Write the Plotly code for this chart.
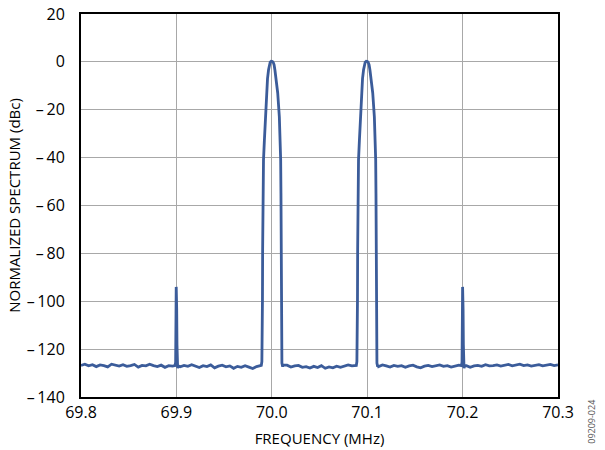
import numpy as np
import plotly.graph_objects as go

# ---------------- data ----------------
# noise floor levels (dBc) sampled every 0.004 MHz from 69.800 to 70.300
floor_start = 69.800
floor_step = 0.004
floor_levels = [
    -126.8, -126.3, -127.0, -126.5, -127.3, -126.6, -126.9, -127.4, -126.3, -126.8,
    -127.1, -126.5, -127.2, -126.9, -126.4, -127.5, -126.8, -127.0, -126.3, -126.9,
    -127.3, -126.7, -127.6, -126.9, -127.1, -126.6, -127.4, -126.8, -127.2, -126.5,
    -127.0, -127.7, -126.9, -127.3, -126.6, -127.8, -127.1, -126.7, -127.4, -127.0,
    -128.0, -127.2, -127.6, -126.9, -127.5, -128.1, -127.3, -126.8, -127.6, -127.9,
    -127.2, -126.9, -127.4, -127.1, -126.7, -127.5, -127.0, -126.8, -127.6, -127.3,
    -127.9, -127.2, -127.7, -126.9, -128.0, -127.4, -127.8, -127.1, -127.6, -127.2,
    -126.6, -127.0, -126.7, -127.2, -126.9, -126.5, -127.1, -126.8, -127.3, -126.6,
    -127.0, -127.5, -126.8, -127.2, -126.9, -127.6, -127.0, -126.7, -127.4, -127.8,
    -127.1, -126.8, -127.3, -127.0, -126.6, -127.2, -126.9, -127.5, -127.1, -126.7,
    -127.3, -126.9, -127.6, -127.0, -126.8, -127.2, -126.5, -127.0, -126.9, -126.6,
    -127.1, -126.8, -126.4, -127.0, -126.7, -126.3, -126.9, -126.6, -127.1, -126.8,
    -126.5, -127.0, -126.7, -126.4, -126.9, -126.6,
]

# carrier peaks: centre frequencies and profile (offset MHz, level dBc)
carrier_centres = [70.0002, 70.0998]
carrier_offsets = [-0.0112, -0.0106, -0.0103, -0.0100, -0.0098, -0.0094, -0.0089, -0.0080,
                   -0.0071, -0.0061, -0.0047, -0.0036, -0.0026, -0.0019, -0.0008, 0.0004,
                   0.0014, 0.0022, 0.0031, 0.0045, 0.0060, 0.0077, 0.0084, 0.0091,
                   0.0094, 0.0096, 0.0098, 0.0101, 0.0104, 0.0112, 0.0118]
carrier_levels = [-126.8, -125.2, -118.0, -100.0, -78.0, -60.0, -41.0, -33.0,
                  -25.6, -14.5, -7.0, -3.3, -1.2, -0.1, 0.3, 0.2,
                  -0.3, -1.2, -3.5, -8.0, -13.0, -23.0, -30.0, -41.0,
                  -55.0, -75.0, -100.0, -120.0, -125.8, -127.3, -126.7]

# spurs
spur_centres = [69.8999, 70.2001]
spur_offsets = [-0.0014, -0.0007, -0.0003, -0.0001, 0.0001, 0.0004, 0.0007, 0.0010, 0.0014, 0.0019]
spur_levels = [-126.9, -125.5, -105.0, -94.0, -94.5, -103.0, -118.0, -126.5, -128.0, -127.0]

x_ticks = [69.8, 69.9, 70.0, 70.1, 70.2, 70.3]
x_tick_text = ["69.8", "69.9", "70.0", "70.1", "70.2", "70.3"]
y_ticks = [20, 0, -20, -40, -60, -80, -100, -120, -140]
y_tick_text = ["20", "0", "–\u200920", "–\u200940", "–\u200960", "–\u200980",
               "–\u2009100", "–\u2009120", "–\u2009140"]

# ---------------- build trace ----------------
floor_f = floor_start + floor_step * np.arange(len(floor_levels))
pts = []
for f, v in zip(floor_f, floor_levels):
    if any(abs(f - c) < 0.0120 for c in carrier_centres):
        continue
    if any(abs(f - c) < 0.0020 for c in spur_centres):
        continue
    pts.append((f, v))
for c in carrier_centres:
    for o, v in zip(carrier_offsets, carrier_levels):
        pts.append((c + o, v))
for c in spur_centres:
    for o, v in zip(spur_offsets, spur_levels):
        pts.append((c + o, v))
pts.sort()
xs = [p[0] for p in pts]
ys = [p[1] for p in pts]

font = "Open Sans, Liberation Sans, sans-serif"

fig = go.Figure()
fig.add_trace(go.Scatter(x=xs, y=ys, mode="lines",
                         line=dict(color="#3b5c9a", width=2.8),
                         showlegend=False, hoverinfo="skip"))

fig.update_layout(
    width=605, height=450,
    margin=dict(l=81, r=47, t=14, b=53, autoexpand=False),
    paper_bgcolor="white", plot_bgcolor="white",
    font=dict(family=font, size=16, color="black"),
    xaxis=dict(range=[69.8, 70.3], tickvals=x_ticks, ticktext=x_tick_text,
               showgrid=True, gridcolor="#a8a8a8", gridwidth=1,
               showline=True, linecolor="black", linewidth=2, mirror=True,
               ticks="", zeroline=False, automargin=False,
               title=dict(text="FREQUENCY (MHz)", font=dict(size=15), standoff=11)),
    yaxis=dict(range=[-140, 20], tickvals=y_ticks, ticktext=y_tick_text,
               showgrid=True, gridcolor="#a8a8a8", gridwidth=1,
               showline=True, linecolor="black", linewidth=2, mirror=True,
               ticks="outside", ticklen=11, tickcolor="white", zeroline=False,
               automargin=False,
               title=dict(text="NORMALIZED SPECTRUM (dBc)", font=dict(size=15), standoff=2)),
)
fig.add_annotation(text="09209-024", xref="paper", yref="paper", x=1.071, y=-0.065,
                   textangle=-90, showarrow=False,
                   font=dict(size=9, color="#555555"), xanchor="center", yanchor="middle")

fig.write_html("out.html")
